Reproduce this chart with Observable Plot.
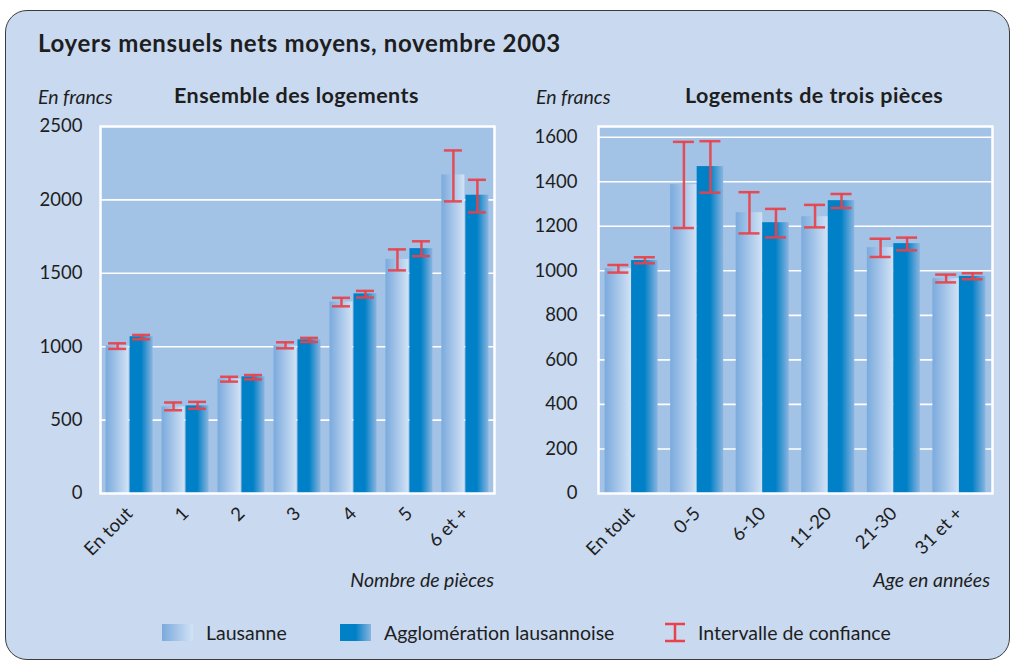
<!DOCTYPE html>
<html><head><meta charset="utf-8">
<script src="https://cdn.jsdelivr.net/npm/d3@7"></script>
<script src="https://cdn.jsdelivr.net/npm/@observablehq/plot@0.6"></script>
<style>
body{margin:0;background:#fff;font-family:Lato,"Open Sans",sans-serif;color:#1e1e1e}
#wrap{position:relative;width:1014px;height:664px;overflow:hidden}
#box{position:absolute;left:5px;top:10px;width:1003px;height:648px;border:1.5px solid #3c3c3c;border-radius:22px;background:#c8d9f0}
.t{position:absolute;white-space:nowrap;line-height:1}
.title{font-weight:700;font-size:24px;letter-spacing:0.65px}
.sub{font-weight:700;font-size:21.5px;letter-spacing:0.45px}
.it{font-style:italic;font-size:19.5px}
.leg{font-size:19.5px}
.sw{position:absolute;width:31px;height:17px}
.svgp{position:absolute}
</style></head>
<body>
<div id="wrap">
  <div id="box"></div>
  <div class="t title" style="left:38px;top:31px">Loyers mensuels nets moyens, novembre 2003</div>
  <div class="t it" style="left:38px;top:87px">En francs</div>
  <div class="t sub" style="left:174px;top:85px">Ensemble des logements</div>
  <div class="t it" style="left:536px;top:87px">En francs</div>
  <div class="t sub" style="left:685px;top:85px">Logements de trois pièces</div>
  <div class="t it" style="right:520px;top:570px">Nombre de pièces</div>
  <div class="t it" style="right:24px;top:570px">Age en années</div>
  <div class="sw" style="left:162px;top:624px;background:linear-gradient(to right,#7aaadd,#d2e2f5)"></div>
  <div class="t leg" style="left:206px;top:623px">Lausanne</div>
  <div class="sw" style="left:340px;top:624px;background:linear-gradient(to right,#0080c6 0%,#0080c6 50%,#8ab4e0 100%)"></div>
  <div class="t leg" style="left:384px;top:623px">Agglomération lausannoise</div>
  <svg class="svgp" style="left:662px;top:622px" width="28" height="22">
    <line x1="13" y1="2" x2="13" y2="19" stroke="#e8424a" stroke-width="2.5"/>
    <line x1="3" y1="2" x2="23" y2="2" stroke="#e8424a" stroke-width="2.5"/>
    <line x1="3" y1="19" x2="23" y2="19" stroke="#e8424a" stroke-width="2.5"/>
  </svg>
  <div class="t leg" style="left:698px;top:623px">Intervalle de confiance</div>
</div>
<script>
// ---- Data: Ensemble des logements (par nombre de pièces)
const leftCats = ["En tout", "1", "2", "3", "4", "5", "6 et +"];
const leftLausanne = [1005, 590, 780, 1005, 1305, 1595, 2170];
const leftLausanneLow = [985, 567, 762, 989, 1275, 1520, 1990];
const leftLausanneHigh = [1023, 620, 795, 1030, 1333, 1663, 2337];
const leftAgglo = [1068, 597, 795, 1047, 1360, 1668, 2032];
const leftAggloLow = [1050, 577, 777, 1032, 1335, 1617, 1915];
const leftAggloHigh = [1080, 624, 807, 1060, 1380, 1718, 2137];
const leftTicks = [0, 500, 1000, 1500, 2000, 2500];

// ---- Data: Logements de trois pièces (par âge)
const rightCats = ["En tout", "0-5", "6-10", "11-20", "21-30", "31 et +"];
const rightLausanne = [1010, 1387, 1261, 1243, 1104, 965];
const rightLausanneLow = [992, 1192, 1168, 1195, 1062, 948];
const rightLausanneHigh = [1026, 1579, 1353, 1296, 1144, 983];
const rightAgglo = [1046, 1468, 1216, 1315, 1122, 975];
const rightAggloLow = [1034, 1351, 1150, 1282, 1092, 962];
const rightAggloHigh = [1061, 1582, 1278, 1345, 1149, 989];
const rightTicks = [0, 200, 400, 600, 800, 1000, 1200, 1400, 1600];

const RED = "#e8424a";

function panel(o) {
  const rows = o.cats.map((c, i) => ({
    cat: c, laus: o.laus[i], lausLo: o.lausLo[i], lausHi: o.lausHi[i],
    agg: o.agg[i], aggLo: o.aggLo[i], aggHi: o.aggHi[i]
  }));
  const width = 510, height = 460;
  const plotW = width - o.ml - o.mr;
  const n = o.cats.length;
  const step = plotW / (n - o.pIn + 2 * o.pOut);
  const bw = step * (1 - o.pIn);
  const cL = -(o.barW / 2 + o.gap / 2), cA = o.barW / 2 + o.gap / 2;
  const inset = (c, w) => ({insetLeft: bw / 2 + c - w / 2, insetRight: bw / 2 - c - w / 2});
  const errStyle = {stroke: RED, strokeWidth: 2.5, strokeOpacity: 0.92};
  const svg = Plot.plot({
    width, height,
    marginLeft: o.ml, marginRight: o.mr, marginTop: 16, marginBottom: 77,
    style: {fontFamily: "Lato, 'Open Sans', sans-serif", fontSize: "18.5px", color: "#1e1e1e", background: "transparent", overflow: "visible"},
    x: {domain: o.cats, paddingInner: o.pIn, paddingOuter: o.pOut, round: false, axis: null},
    y: {domain: [0, o.yMax], axis: null},
    marks: [
      Plot.frame({fill: "#a2c2e6", stroke: null}),
      Plot.gridY({ticks: o.grid, stroke: "white", strokeOpacity: 1, strokeWidth: 1.6}),
      Plot.barY(rows, {x: "cat", y: "laus", fill: "url(#gLaus)", ...inset(cL, o.barW)}),
      Plot.barY(rows, {x: "cat", y: "agg", fill: "url(#gAgg)", ...inset(cA, o.barW)}),
      Plot.ruleX(rows, {x: "cat", y1: "lausLo", y2: "lausHi", dx: cL, ...errStyle}),
      Plot.ruleX(rows, {x: "cat", y1: "aggLo", y2: "aggHi", dx: cA, ...errStyle}),
      Plot.tickY(rows, {x: "cat", y: "lausLo", ...inset(cL, o.capW), ...errStyle}),
      Plot.tickY(rows, {x: "cat", y: "lausHi", ...inset(cL, o.capW), ...errStyle}),
      Plot.tickY(rows, {x: "cat", y: "aggLo", ...inset(cA, o.capW), ...errStyle}),
      Plot.tickY(rows, {x: "cat", y: "aggHi", ...inset(cA, o.capW), ...errStyle}),
      Plot.frame({stroke: "white", strokeWidth: 2.5, fill: null}),
      Plot.axisY({ticks: o.ticks, tickSize: 0, tickPadding: o.tp, tickFormat: d => String(d), label: null, fontSize: 18.5}),
      Plot.axisX({tickRotate: -45, tickSize: 0, tickPadding: 17, label: null, fontSize: 18.5})
    ]
  });
  svg.classList.add("svgp");
  svg.style.left = o.left + "px";
  svg.style.top = "110px";
  svg.style.position = "absolute";
  return svg;
}

const defs = `<svg width="0" height="0" style="position:absolute"><defs>
<linearGradient id="gLaus" x1="0" x2="1" y1="0" y2="0"><stop offset="0" stop-color="#7aaadd"/><stop offset="1" stop-color="#d2e2f5"/></linearGradient>
<linearGradient id="gAgg" x1="0" x2="1" y1="0" y2="0"><stop offset="0" stop-color="#0080c6"/><stop offset="0.5" stop-color="#0080c6"/><stop offset="1" stop-color="#8ab4e0"/></linearGradient>
</defs></svg>`;
const wrap = document.getElementById("wrap");
wrap.insertAdjacentHTML("beforeend", defs);

wrap.appendChild(panel({
  cats: leftCats, laus: leftLausanne, lausLo: leftLausanneLow, lausHi: leftLausanneHigh,
  agg: leftAgglo, aggLo: leftAggloLow, aggHi: leftAggloHigh,
  yMax: 2500, ticks: leftTicks, grid: leftTicks.slice(1, -1),
  ml: 100, mr: 16, pIn: 0.16, pOut: 0.1, barW: 23, gap: 1, capW: 18, tp: 18, left: 0
}));
wrap.appendChild(panel({
  cats: rightCats, laus: rightLausanne, lausLo: rightLausanneLow, lausHi: rightLausanneHigh,
  agg: rightAgglo, aggLo: rightAggloLow, aggHi: rightAggloHigh,
  yMax: 1648, ticks: rightTicks, grid: rightTicks.slice(1),
  ml: 98, mr: 18, pIn: 0.19, pOut: 0.1, barW: 26.5, gap: 0, capW: 21, tp: 21, left: 500
}));
</script>
</body></html>
